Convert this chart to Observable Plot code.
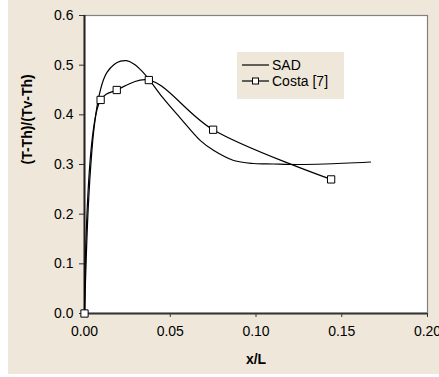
<!DOCTYPE html>
<html>
<head>
<meta charset="utf-8">
<script src="https://cdn.jsdelivr.net/npm/d3@7"></script>
<script src="https://cdn.jsdelivr.net/npm/@observablehq/plot@0.6"></script>
<style>
  html, body { margin: 0; padding: 0; background: #ffffff; }
  body { width: 439px; height: 377px; position: relative; overflow: hidden; font-family: "Liberation Sans", Arial, sans-serif; }
  #chart { position: absolute; left: 8px; top: 0px; }
  #chart svg { background: #EFE8DA; display: block; }
  #legend { position: absolute; left: 237px; top: 52px; width: 107px; height: 47px; background: #EFE8DA; }
</style>
</head>
<body>
<div id="chart"></div>
<div id="legend"></div>
<script>
// SAD simulation curve
const sadX = [0, 0.001, 0.002, 0.0035, 0.0054, 0.008, 0.011, 0.0132, 0.0171, 0.021, 0.0245, 0.029, 0.0335, 0.0377, 0.046, 0.056, 0.0676, 0.0754, 0.087, 0.0987, 0.11, 0.124, 0.14, 0.1668];
const sadY = [0, 0.11, 0.2, 0.29, 0.368, 0.43, 0.47, 0.486, 0.501, 0.508, 0.509, 0.502, 0.488, 0.471, 0.433, 0.393, 0.348, 0.328, 0.308, 0.302, 0.301, 0.300, 0.301, 0.305];
// Costa [7] data
const costaX = [0, 0.0094, 0.0188, 0.0375, 0.075, 0.1438];
const costaY = [0, 0.43, 0.45, 0.47, 0.37, 0.27];
// ticks
const xTicks = [0, 0.05, 0.10, 0.15, 0.20];
const yTicks = [0, 0.1, 0.2, 0.3, 0.4, 0.5, 0.6];
const seriesNames = ["SAD", "Costa [7]"];
const xTitle = "x/L";
const yTitle = "(T-Th)/(Tv-Th)";

const sad = sadX.map((x, i) => ({x, y: sadY[i]}));
const costa = costaX.map((x, i) => ({x, y: costaY[i]}));

const chart = Plot.plot({
  width: 431,
  height: 374,
  marginLeft: 76,
  marginRight: 12,
  marginTop: 15,
  marginBottom: 61,
  style: {fontFamily: "Liberation Sans, Arial, sans-serif", fontSize: "14px", color: "#000", background: "#EFE8DA"},
  x: {domain: [0, 0.2]},
  y: {domain: [0, 0.6]},
  marks: [
    Plot.frame({fill: "white", stroke: "#808080", strokeWidth: 1.2}),
    Plot.axisX({ticks: xTicks, tickFormat: d3.format(".2f"), tickSize: 4, tickPadding: 9, label: null, fontSize: 14, stroke: "#333"}),
    Plot.axisY({ticks: yTicks, tickFormat: d3.format(".1f"), tickSize: 5, tickPadding: 6, label: null, fontSize: 14, stroke: "#333"}),
    Plot.ruleX([0], {stroke: "#222", strokeWidth: 2}),
    Plot.ruleY([0], {stroke: "#333", strokeWidth: 2}),
    Plot.line(sad, {x: "x", y: "y", curve: "catmull-rom", stroke: "#000", strokeWidth: 1.2}),
    Plot.line(costa, {x: "x", y: "y", curve: "catmull-rom", stroke: "#000", strokeWidth: 1.2}),
    Plot.dot(costa, {x: "x", y: "y", symbol: "square", r: 4.1, fill: "white", stroke: "#000", strokeWidth: 1}),
    Plot.text([xTitle], {frameAnchor: "bottom", dy: 50, fontWeight: "bold", fontSize: 14}),
    Plot.text([yTitle], {frameAnchor: "left", dx: -57, rotate: -90, fontWeight: "bold", fontSize: 14})
  ]
});
document.getElementById("chart").appendChild(chart);

// legend
const lg = d3.select("#legend").append("svg").attr("width", 107).attr("height", 47)
  .style("font-family", "Liberation Sans, Arial, sans-serif").style("font-size", "14px");
const rows = [{name: seriesNames[0], y: 13, marker: false}, {name: seriesNames[1], y: 29, marker: true}];
rows.forEach(r => {
  lg.append("line").attr("x1", 5).attr("x2", 32).attr("y1", r.y).attr("y2", r.y).attr("stroke", "#000").attr("stroke-width", 1.2);
  if (r.marker) lg.append("rect").attr("x", 15.5).attr("y", r.y - 3).attr("width", 6).attr("height", 6).attr("fill", "white").attr("stroke", "#000");
  lg.append("text").attr("x", 35).attr("y", r.y).attr("dy", "0.35em").text(r.name);
});
</script>
</body>
</html>
